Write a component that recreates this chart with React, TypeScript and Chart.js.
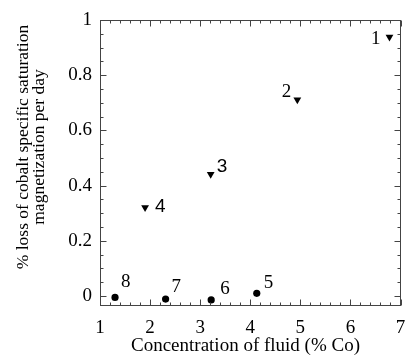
import React, { useEffect, useRef } from "react";
import { Chart, registerables } from "chart.js";

Chart.register(...registerables);

// Data
const triangleX = [6.78, 4.94, 3.21, 1.9];
const triangleY = [0.938, 0.711, 0.441, 0.321];
const triangleLabels = ["1", "2", "3", "4"];

const circleX = [4.13, 3.22, 2.31, 1.3];
const circleY = [0.01, -0.014, -0.011, -0.005];
const circleLabels = ["5", "6", "7", "8"];

const xTicks = [1, 2, 3, 4, 5, 6, 7];
const yTicks = [0, 0.2, 0.4, 0.6, 0.8, 1];
const yTickLabels = ["0", "0.2", "0.4", "0.6", "0.8", "1"];

const xTitle = "Concentration of fluid (% Co)";
const yTitleLines = ["% loss of cobalt specific saturation", "magnetization per day"];

// label placement (pixel offsets from marker) & font family per label
const triangleLabelOffsets = [
  [-9, 2, "right", "serif"],
  [-6, -8, "right", "serif"],
  [6, -7.5, "left", "sans"],
  [10, -1, "left", "sans"],
];
const circleLabelOffsets = [
  [7, -10, "left", "serif"],
  [9, -11, "left", "serif"],
  [6, -12.5, "left", "serif"],
  [6, -15, "left", "serif"],
];

const SERIF = "'Liberation Serif', 'Times New Roman', serif";
const SANS = "'Liberation Sans', Arial, sans-serif";

const framePlugin = {
  id: "framePlugin",
  afterDraw(chart: any) {
    const { ctx, chartArea } = chart;
    const xs = chart.scales.x;
    const ys = chart.scales.y;
    const l = Math.round(chartArea.left) + 0.5;
    const r = Math.round(chartArea.right) - 0.5;
    const t = Math.round(chartArea.top) + 0.5;
    const b = Math.round(chartArea.bottom) - 0.5;
    ctx.save();
    ctx.strokeStyle = "#444";
    ctx.lineWidth = 1;
    ctx.strokeRect(l, t, r - l, b - t);
    ctx.beginPath();
    // x ticks (major every 1, minor every 0.2)
    for (let i = 0; i <= 30; i++) {
      const v = 1 + i * 0.2;
      const px = Math.round(xs.getPixelForValue(v)) + 0.5;
      const len = i % 5 === 0 ? 6 : 3;
      ctx.moveTo(px, b);
      ctx.lineTo(px, b - len);
      ctx.moveTo(px, t);
      ctx.lineTo(px, t + len);
    }
    // y ticks (major every 0.2, minor every 0.05)
    for (let i = 0; i <= 20; i++) {
      const v = i * 0.05;
      const py = Math.round(ys.getPixelForValue(v)) + 0.5;
      const len = i % 4 === 0 ? 6 : 3;
      ctx.moveTo(l, py);
      ctx.lineTo(l + len, py);
      ctx.moveTo(r, py);
      ctx.lineTo(r - len, py);
    }
    ctx.stroke();

    // point labels
    ctx.fillStyle = "#000";
    ctx.textBaseline = "middle";
    const drawLabels = (xv: number[], yv: number[], labels: string[], offs: any[]) => {
      labels.forEach((lab, i) => {
        const px = xs.getPixelForValue(xv[i]);
        const py = ys.getPixelForValue(yv[i]);
        const [dx, dy, align, fam] = offs[i];
        ctx.font = `19px ${fam === "sans" ? SANS : SERIF}`;
        ctx.textAlign = align;
        ctx.fillText(lab, px + dx, py + dy);
      });
    };
    drawLabels(triangleX, triangleY, triangleLabels, triangleLabelOffsets);
    drawLabels(circleX, circleY, circleLabels, circleLabelOffsets);

    // axis titles
    ctx.font = `19px ${SERIF}`;
    ctx.textAlign = "center";
    ctx.textBaseline = "alphabetic";
    ctx.fillText(xTitle, 245.5, 351);

    ctx.font = `17.5px ${SERIF}`;
    const baselines = [28, 44];
    yTitleLines.forEach((line, i) => {
      ctx.save();
      ctx.translate(baselines[i], 147);
      ctx.rotate(-Math.PI / 2);
      ctx.fillText(line, 0, 0);
      ctx.restore();
    });
    ctx.restore();
  },
};

export default function App() {
  const ref = useRef<HTMLCanvasElement>(null);
  useEffect(() => {
    if (!ref.current) return;
    const chart = new Chart(ref.current, {
      type: "scatter",
      data: {
        datasets: [
          {
            label: "triangles",
            data: triangleX.map((x, i) => ({ x, y: triangleY[i] })),
            pointStyle: "triangle",
            rotation: 180,
            radius: 4.5,
            backgroundColor: "#000",
            borderColor: "#000",
            borderWidth: 0,
          },
          {
            label: "circles",
            data: circleX.map((x, i) => ({ x, y: circleY[i] })),
            pointStyle: "circle",
            radius: 3.6,
            backgroundColor: "#000",
            borderColor: "#000",
            borderWidth: 0,
          },
        ],
      },
      options: {
        responsive: false,
        animation: false,
        layout: { padding: { left: 0, top: 20, right: 2, bottom: 0 } },
        plugins: { legend: { display: false }, tooltip: { enabled: false } },
        scales: {
          x: {
            type: "linear",
            min: 1,
            max: 7,
            grid: { display: false, drawTicks: false },
            border: { display: false },
            afterBuildTicks: (s: any) => {
              s.ticks = xTicks.map((v) => ({ value: v }));
            },
            afterFit: (s: any) => {
              s.height = 50;
              s.paddingLeft = 0;
              s.paddingRight = 0;
            },
            ticks: {
              autoSkip: false,
              maxRotation: 0,
              padding: 11,
              color: "#000",
              font: { family: SERIF, size: 19 },
              callback: (v: any) => String(v),
            },
          },
          y: {
            type: "linear",
            min: -0.036,
            max: 1,
            grid: { display: false, drawTicks: false },
            border: { display: false },
            afterBuildTicks: (s: any) => {
              s.ticks = yTicks.map((v) => ({ value: v }));
            },
            afterFit: (s: any) => {
              s.width = 100;
              s.paddingTop = 0;
              s.paddingBottom = 0;
            },
            ticks: {
              autoSkip: false,
              padding: 8,
              color: "#000",
              font: { family: SERIF, size: 19 },
              callback: (v: any) => {
                const idx = yTicks.indexOf(v);
                return idx >= 0 ? yTickLabels[idx] : "";
              },
            },
          },
        },
      },
      plugins: [framePlugin],
    });
    return () => chart.destroy();
  }, []);
  return (
    <div style={{ position: "absolute", left: 0, top: 0, width: 405, height: 356, background: "#fff" }}>
      <canvas ref={ref} width={405} height={356} />
    </div>
  );
}
